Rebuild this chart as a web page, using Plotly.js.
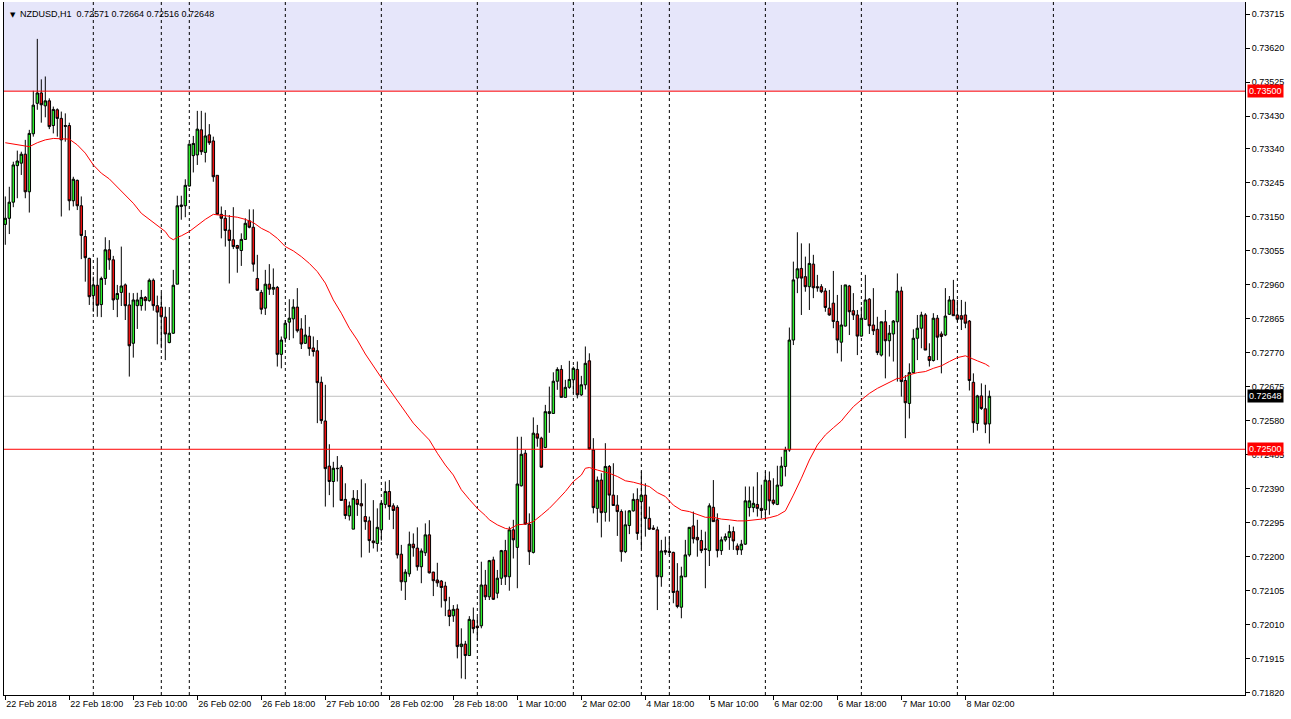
<!DOCTYPE html>
<html><head><meta charset="utf-8">
<script src="https://cdn.plot.ly/plotly-3.0.1.min.js"></script>
<style>html,body{margin:0;padding:0;background:#fff;overflow:hidden}#chart{width:1291px;height:719px}</style>
</head><body><div id="chart"></div>
<script>
const symbolTitle = "NZDUSD,H1";
const lastOHLC = ["0.72571", "0.72664", "0.72516", "0.72648"];

const open = [0.73128,0.73145,0.73190,0.73292,0.73299,0.73324,0.73219,0.73381,0.73466,0.73495,
0.73459,0.73473,0.73404,0.73448,0.73424,0.73404,0.73404,0.73194,0.73251,0.73180,
0.73094,0.73033,0.72929,0.72958,0.72904,0.72977,0.73057,0.73029,0.72919,0.72938,
0.72959,0.72903,0.72796,0.72901,0.72901,0.72924,0.72915,0.72972,0.72901,0.72897,
0.72869,0.72798,0.72824,0.72961,0.73178,0.73180,0.73235,0.73320,0.73322,0.73392,
0.73329,0.73378,0.73361,0.73265,0.73156,0.73145,0.73112,0.73085,0.73069,0.73055,
0.73086,0.73138,0.73120,0.72977,0.72938,0.72894,0.72961,0.72947,0.72952,0.72765,
0.72810,0.72855,0.72864,0.72897,0.72836,0.72796,0.72816,0.72783,0.72775,0.72687,
0.72579,0.72453,0.72410,0.72447,0.72450,0.72360,0.72314,0.72277,0.72360,0.72348,
0.72312,0.72300,0.72244,0.72237,0.72275,0.72346,0.72382,0.72342,0.72338,0.72207,
0.72130,0.72152,0.72235,0.72224,0.72172,0.72211,0.72261,0.72157,0.72135,0.72132,
0.72118,0.72051,0.72035,0.72054,0.71949,0.71956,0.71924,0.72023,0.72006,0.72007,
0.72121,0.72088,0.72191,0.72098,0.72140,0.72217,0.72144,0.72275,0.72226,0.72398,
0.72489,0.72291,0.72212,0.72543,0.72531,0.72505,0.72600,0.72600,0.72690,0.72723,
0.72645,0.72673,0.72694,0.72723,0.72652,0.72680,0.72747,0.72498,0.72335,0.72414,
0.72324,0.72452,0.72372,0.72344,0.72326,0.72214,0.72287,0.72328,0.72360,0.72354,
0.72372,0.72307,0.72280,0.72275,0.72144,0.72217,0.72215,0.72212,0.72104,0.72059,
0.72144,0.72205,0.72286,0.72254,0.72245,0.72222,0.72217,0.72338,0.72303,0.72217,
0.72247,0.72254,0.72270,0.72230,0.72219,0.72235,0.72337,0.72337,0.72346,0.72335,
0.72331,0.72412,0.72358,0.72346,0.72398,0.72452,0.72498,0.72805,0.72978,0.73005,
0.72982,0.72954,0.73017,0.72954,0.72954,0.72942,0.72894,0.72908,0.72857,0.72799,
0.72844,0.72956,0.72887,0.72875,0.72816,0.72863,0.72919,0.72847,0.72835,0.72763,
0.72856,0.72803,0.72822,0.72856,0.72942,0.72692,0.72628,0.72714,0.72810,0.72838,
0.72875,0.72759,0.72748,0.72866,0.72822,0.72819,0.72877,0.72917,0.72875,0.72873,
0.72875,0.72858,0.72687,0.72572,0.72649,0.72613,0.72571];

const high = [0.73206,0.73233,0.73303,0.73334,0.73331,0.73364,0.73392,0.73501,0.73646,0.73533,
0.73541,0.73480,0.73457,0.73452,0.73443,0.73438,0.73412,0.73261,0.73253,0.73206,
0.73112,0.73035,0.72982,0.73035,0.72982,0.73092,0.73084,0.73040,0.72959,0.73066,
0.72963,0.72937,0.72936,0.72937,0.72945,0.72928,0.72977,0.72977,0.72929,0.72937,
0.72898,0.72897,0.73001,0.73208,0.73208,0.73254,0.73354,0.73375,0.73445,0.73445,
0.73440,0.73408,0.73373,0.73265,0.73178,0.73168,0.73154,0.73176,0.73071,0.73103,
0.73145,0.73170,0.73170,0.73043,0.72945,0.73001,0.73017,0.73005,0.72956,0.72815,
0.72861,0.72919,0.72919,0.72950,0.72866,0.72875,0.72842,0.72815,0.72805,0.72703,
0.72680,0.72514,0.72465,0.72481,0.72456,0.72405,0.72354,0.72386,0.72386,0.72416,
0.72405,0.72312,0.72358,0.72335,0.72354,0.72410,0.72414,0.72349,0.72344,0.72233,
0.72165,0.72270,0.72265,0.72282,0.72223,0.72293,0.72302,0.72158,0.72183,0.72135,
0.72130,0.72088,0.72065,0.72067,0.72000,0.71965,0.72034,0.72058,0.72032,0.72186,
0.72163,0.72191,0.72200,0.72163,0.72219,0.72247,0.72284,0.72303,0.72535,0.72535,
0.72498,0.72321,0.72589,0.72568,0.72535,0.72624,0.72675,0.72715,0.72729,0.72735,
0.72694,0.72747,0.72731,0.72745,0.72705,0.72787,0.72768,0.72531,0.72424,0.72433,
0.72517,0.72456,0.72461,0.72372,0.72332,0.72329,0.72330,0.72377,0.72391,0.72438,
0.72405,0.72340,0.72288,0.72284,0.72247,0.72256,0.72256,0.72214,0.72182,0.72172,
0.72247,0.72282,0.72326,0.72303,0.72275,0.72270,0.72349,0.72414,0.72321,0.72256,
0.72265,0.72289,0.72284,0.72237,0.72247,0.72396,0.72396,0.72396,0.72436,0.72401,
0.72438,0.72438,0.72419,0.72454,0.72479,0.72507,0.72840,0.73024,0.73106,0.73075,
0.73038,0.73075,0.73043,0.72987,0.72961,0.72950,0.72945,0.72998,0.72931,0.72959,
0.72959,0.72959,0.72936,0.72889,0.72898,0.72987,0.72922,0.72950,0.72870,0.72856,
0.72889,0.72847,0.72861,0.72991,0.72954,0.72707,0.72740,0.72835,0.72875,0.72884,
0.72880,0.72796,0.72880,0.72875,0.72829,0.72950,0.72928,0.72973,0.72917,0.72917,
0.72912,0.72861,0.72712,0.72652,0.72684,0.72680,0.72664];

const low = [0.73071,0.73101,0.73176,0.73201,0.73266,0.73201,0.73161,0.73373,0.73448,0.73412,
0.73427,0.73394,0.73382,0.73373,0.73150,0.73359,0.73167,0.73178,0.73168,0.73031,
0.72968,0.72903,0.72884,0.72870,0.72869,0.72959,0.73001,0.72889,0.72869,0.72900,
0.72861,0.72703,0.72756,0.72836,0.72887,0.72887,0.72912,0.72887,0.72793,0.72782,
0.72749,0.72796,0.72822,0.72961,0.73141,0.73148,0.73234,0.73273,0.73294,0.73322,
0.73301,0.73350,0.73247,0.73154,0.73089,0.73066,0.72963,0.73059,0.72993,0.73012,
0.73085,0.73117,0.72996,0.72943,0.72877,0.72875,0.72931,0.72931,0.72731,0.72726,
0.72798,0.72805,0.72810,0.72826,0.72780,0.72794,0.72761,0.72759,0.72573,0.72571,
0.72340,0.72372,0.72338,0.72410,0.72357,0.72305,0.72301,0.72277,0.72314,0.72198,
0.72275,0.72211,0.72223,0.72214,0.72245,0.72335,0.72303,0.72277,0.72195,0.72105,
0.72079,0.72144,0.72200,0.72161,0.72126,0.72202,0.72153,0.72090,0.72116,0.72058,
0.72034,0.72006,0.72018,0.71916,0.71860,0.71858,0.71924,0.71986,0.71967,0.72000,
0.72079,0.72079,0.72079,0.72084,0.72121,0.72121,0.72105,0.72195,0.72112,0.72396,
0.72289,0.72177,0.72209,0.72507,0.72448,0.72503,0.72546,0.72599,0.72666,0.72645,
0.72645,0.72669,0.72656,0.72642,0.72649,0.72667,0.72498,0.72321,0.72295,0.72254,
0.72298,0.72298,0.72343,0.72258,0.72186,0.72210,0.72263,0.72326,0.72247,0.72223,
0.72256,0.72275,0.72275,0.72051,0.72116,0.72205,0.72205,0.72070,0.72056,0.72028,
0.72144,0.72200,0.72237,0.72200,0.72210,0.72112,0.72174,0.72298,0.72198,0.72205,
0.72242,0.72219,0.72219,0.72205,0.72205,0.72233,0.72312,0.72324,0.72312,0.72307,
0.72303,0.72317,0.72344,0.72344,0.72396,0.72424,0.72493,0.72791,0.72936,0.72875,
0.72940,0.72889,0.72922,0.72940,0.72936,0.72884,0.72873,0.72838,0.72768,0.72745,
0.72843,0.72819,0.72861,0.72763,0.72815,0.72861,0.72822,0.72819,0.72763,0.72759,
0.72698,0.72759,0.72745,0.72689,0.72647,0.72531,0.72586,0.72714,0.72749,0.72782,
0.72777,0.72731,0.72745,0.72749,0.72712,0.72816,0.72875,0.72873,0.72856,0.72833,
0.72838,0.72664,0.72546,0.72552,0.72610,0.72545,0.72516];

const close = [0.73145,0.73190,0.73294,0.73305,0.73324,0.73219,0.73382,0.73461,0.73495,0.73462,
0.73473,0.73401,0.73449,0.73424,0.73364,0.73402,0.73194,0.73254,0.73180,0.73097,
0.73035,0.72926,0.72959,0.72902,0.72977,0.73057,0.73029,0.72917,0.72935,0.72956,
0.72901,0.72789,0.72917,0.72917,0.72924,0.72915,0.72972,0.72901,0.72883,0.72870,
0.72822,0.72824,0.72958,0.73180,0.73182,0.73237,0.73352,0.73354,0.73394,0.73331,
0.73375,0.73356,0.73261,0.73156,0.73145,0.73111,0.73083,0.73066,0.73061,0.73086,
0.73131,0.73120,0.73017,0.72944,0.72891,0.72961,0.72947,0.72952,0.72765,0.72805,
0.72852,0.72866,0.72897,0.72831,0.72794,0.72819,0.72781,0.72773,0.72686,0.72580,
0.72446,0.72410,0.72447,0.72446,0.72357,0.72315,0.72342,0.72363,0.72346,0.72342,
0.72298,0.72245,0.72239,0.72282,0.72349,0.72382,0.72340,0.72329,0.72205,0.72130,
0.72157,0.72235,0.72225,0.72172,0.72216,0.72261,0.72155,0.72133,0.72127,0.72114,
0.72077,0.72033,0.72053,0.71949,0.71956,0.71924,0.72025,0.71999,0.72002,0.72121,
0.72088,0.72189,0.72081,0.72140,0.72217,0.72144,0.72275,0.72247,0.72403,0.72486,
0.72291,0.72214,0.72545,0.72531,0.72450,0.72605,0.72605,0.72690,0.72723,0.72645,
0.72673,0.72695,0.72726,0.72652,0.72680,0.72740,0.72501,0.72337,0.72414,0.72323,
0.72452,0.72372,0.72343,0.72326,0.72214,0.72289,0.72328,0.72360,0.72265,0.72372,
0.72307,0.72277,0.72277,0.72144,0.72216,0.72213,0.72212,0.72100,0.72061,0.72146,
0.72205,0.72282,0.72250,0.72247,0.72217,0.72220,0.72342,0.72298,0.72217,0.72247,
0.72256,0.72270,0.72244,0.72219,0.72235,0.72356,0.72356,0.72349,0.72335,0.72329,
0.72414,0.72356,0.72349,0.72400,0.72453,0.72498,0.72805,0.72973,0.73004,0.72978,
0.72954,0.73019,0.72951,0.72951,0.72940,0.72896,0.72875,0.72857,0.72805,0.72847,
0.72959,0.72884,0.72875,0.72816,0.72866,0.72917,0.72845,0.72831,0.72770,0.72856,
0.72803,0.72824,0.72858,0.72942,0.72689,0.72630,0.72714,0.72810,0.72838,0.72875,
0.72777,0.72748,0.72866,0.72813,0.72815,0.72872,0.72917,0.72873,0.72863,0.72863,
0.72852,0.72692,0.72574,0.72649,0.72614,0.72570,0.72648];

// Red moving average, read at sampled bars
const maIndex = [0,3,6,8,10,12,14,16,18,20,22,24,26,28,30,32,34,36,38,40,41,42,43,44,46,48,50,52,54,56,58,60,
62,64,66,68,70,72,74,76,78,80,82,84,86,88,90,95,101,102,104,106,108,110,112,114,116,118,120,121,123,125,126,128,130,132,
134,136,138,140,142,144,145,146,148,150,151,153,155,157,159,161,163,165,167,169,171,173,175,177,179,181,183,185,187,189,
191,193,195,196,197,199,201,203,205,207,209,210,212,214,216,218,220,222,223,224,226,228,230,232,234,236,238,240,241,243,245,246];
const maValue = [0.73356,0.73350,0.73345,0.73356,0.73364,0.73368,0.73368,0.73366,0.73350,0.73327,0.73294,0.73271,0.73255,0.73233,0.73210,0.73187,
0.73159,0.73142,0.73126,0.73108,0.73092,0.73085,0.73092,0.73096,0.73108,0.73126,0.73142,0.73156,0.73154,0.73152,0.73148,0.73142,
0.73133,0.73117,0.73106,0.73089,0.73066,0.73054,0.73038,0.73019,0.72996,0.72964,0.72917,0.72880,0.72838,0.72805,0.72766,0.72683,
0.72590,0.72573,0.72549,0.72526,0.72489,0.72456,0.72428,0.72387,0.72360,0.72335,0.72315,0.72303,0.72289,0.72279,0.72277,0.72289,
0.72291,0.72298,0.72316,0.72335,0.72358,0.72382,0.72410,0.72428,0.72447,0.72449,0.72442,0.72436,0.72433,0.72424,0.72412,0.72408,
0.72403,0.72396,0.72379,0.72368,0.72344,0.72330,0.72326,0.72317,0.72310,0.72310,0.72305,0.72303,0.72300,0.72300,0.72302,0.72305,
0.72309,0.72315,0.72328,0.72349,0.72372,0.72419,0.72470,0.72512,0.72540,0.72560,0.72579,0.72593,0.72619,0.72638,0.72656,0.72670,
0.72681,0.72691,0.72698,0.72698,0.72708,0.72714,0.72717,0.72726,0.72733,0.72745,0.72756,0.72761,0.72757,0.72747,0.72738,0.72731];

const tickIndex = [0,16,32,48,64,80,96,112,128,144,160,176,192,208,224,240];
const tickLabels = ["22 Feb 2018","22 Feb 18:00","23 Feb 10:00","26 Feb 02:00","26 Feb 18:00","27 Feb 10:00",
"28 Feb 02:00","28 Feb 18:00","1 Mar 10:00","2 Mar 02:00","4 Mar 18:00","5 Mar 10:00","6 Mar 02:00",
"6 Mar 18:00","7 Mar 10:00","8 Mar 02:00"];
const separatorIndex = [22,39,46,70,94,118,142,159,166,190,214,238,262];
const priceTicks = [0.73715,0.73620,0.73525,0.73430,0.73340,0.73245,0.73150,0.73055,0.72960,0.72865,0.72770,
0.72675,0.72580,0.72485,0.72390,0.72295,0.72200,0.72105,0.72010,0.71915,0.71820];
const zoneLevel = 0.73500;
const supportLevel = 0.72500;
const lastPrice = 0.72648;

const barX = open.map((_, i) => i);
const F = "Liberation Sans, Arial, sans-serif";

const traces = [
  {
    type: "candlestick", x: barX, open: open, high: high, low: low, close: close,
    increasing: {line: {color: "#000000", width: 1}, fillcolor: "#2bef2b"},
    decreasing: {line: {color: "#000000", width: 1}, fillcolor: "#f01010"},
    whiskerwidth: 0, hoverinfo: "skip", showlegend: false
  },
  {
    type: "scatter", mode: "lines", x: maIndex, y: maValue,
    line: {color: "#ff0000", width: 1}, hoverinfo: "skip", showlegend: false
  }
];

const yTop = 0.73749, yBot = 0.718138;
const shapes = [
  {type: "rect", xref: "paper", x0: 0, x1: 1, yref: "y", y0: zoneLevel, y1: yTop,
   fillcolor: "#e6e6fa", line: {width: 0}, layer: "below"},
  {type: "line", xref: "paper", x0: 0, x1: 1, yref: "y", y0: zoneLevel, y1: zoneLevel,
   line: {color: "#ff0000", width: 1}},
  {type: "line", xref: "paper", x0: 0, x1: 1, yref: "y", y0: supportLevel, y1: supportLevel,
   line: {color: "#ff0000", width: 1}},
  {type: "line", xref: "paper", x0: 0, x1: 1, yref: "y", y0: lastPrice, y1: lastPrice,
   line: {color: "#c0c0c0", width: 1}, layer: "below"}
];
separatorIndex.forEach(s => shapes.push({
  type: "line", xref: "x", x0: s, x1: s, yref: "paper", y0: 0, y1: 1,
  line: {color: "#000000", width: 1, dash: "3px,3px"}, layer: "below"
}));

const tag = (v, bg) => ({
  xref: "paper", x: 1, xanchor: "left", xshift: 2, yref: "y", y: v, yanchor: "middle",
  text: v.toFixed(5), showarrow: false, bgcolor: bg, borderpad: 1,
  font: {family: F, size: 9, color: "#ffffff"}
});

const annotations = [
  {xref: "paper", x: 0, xanchor: "left", xshift: 4, yref: "paper", y: 1, yanchor: "top", yshift: -7,
   text: "▼", showarrow: false, font: {family: "DejaVu Sans", size: 7, color: "#000000"}},
  {xref: "paper", x: 0, xanchor: "left", xshift: 14, yref: "paper", y: 1, yanchor: "top", yshift: -5,
   text: symbolTitle + "  " + lastOHLC.join(" "), showarrow: false,
   font: {family: F, size: 9, color: "#000000"}},
  tag(zoneLevel, "#ff0000"),
  tag(lastPrice, "#000000"),
  tag(supportLevel, "#ff0000")
];

const layout = {
  width: 1291, height: 719,
  margin: {l: 4, r: 46, t: 2, b: 24},
  paper_bgcolor: "#ffffff", plot_bgcolor: "#ffffff",
  showlegend: false, hovermode: false, boxgap: 0.12,
  xaxis: {
    type: "linear", range: [-0.325, 309.9], rangeslider: {visible: false},
    showgrid: false, zeroline: false, showline: true, linecolor: "#000000", linewidth: 1,
    tickmode: "array", tickvals: tickIndex, ticktext: tickLabels,
    ticks: "outside", ticklen: 4, tickcolor: "#000000", ticklabelposition: "outside right",
    tickfont: {family: F, size: 9, color: "#000000"}, fixedrange: true
  },
  yaxis: {
    side: "right", range: [yBot, yTop], showgrid: false, zeroline: false,
    showline: true, mirror: true, linecolor: "#000000", linewidth: 1,
    tickmode: "array", tickvals: priceTicks, ticktext: priceTicks.map(v => v.toFixed(5)),
    ticks: "outside", ticklen: 4, tickcolor: "#000000",
    tickfont: {family: F, size: 9, color: "#000000"}, fixedrange: true
  },
  shapes: shapes,
  annotations: annotations
};

Plotly.newPlot("chart", traces, layout, {staticPlot: true, displayModeBar: false});
</script></body></html>
